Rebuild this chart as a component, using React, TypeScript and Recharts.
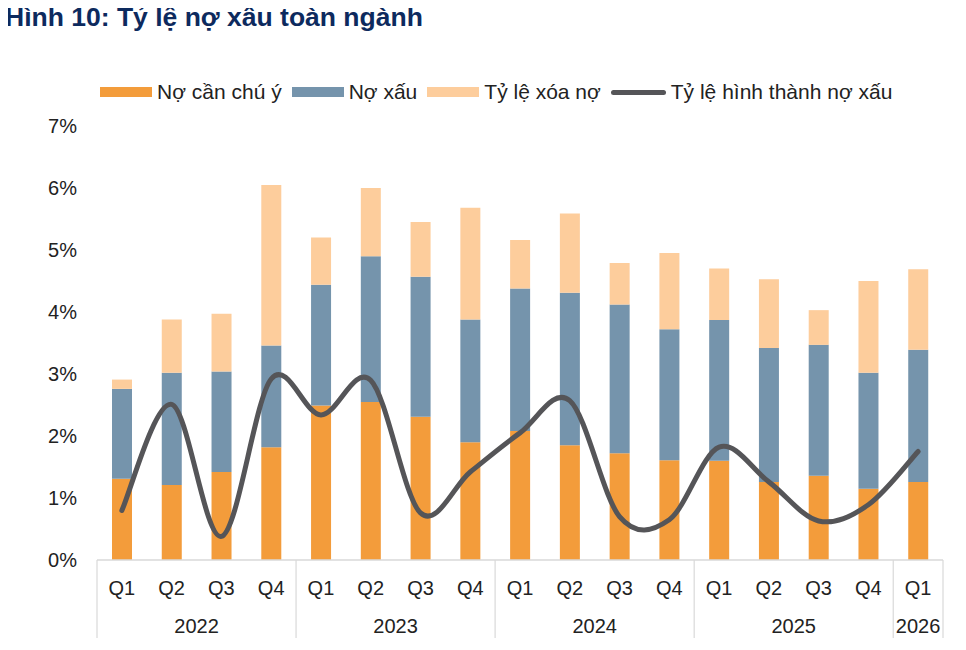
import React from 'react';
import { ComposedChart, Bar, Line, XAxis, YAxis } from 'recharts';

const quarters = ['Q1','Q2','Q3','Q4','Q1','Q2','Q3','Q4','Q1','Q2','Q3','Q4','Q1','Q2','Q3','Q4','Q1'];
const years = ['2022','2022','2022','2022','2023','2023','2023','2023','2024','2024','2024','2024','2025','2025','2025','2025','2026'];
const watchList = [1.31,1.21,1.42,1.82,2.49,2.55,2.31,1.90,2.08,1.85,1.72,1.61,1.60,1.26,1.36,1.15,1.26];
const badDebt = [1.45,1.81,1.62,1.64,1.95,2.35,2.26,1.98,2.30,2.46,2.40,2.11,2.27,2.16,2.11,1.87,2.13];
const writeOff = [0.15,0.86,0.93,2.59,0.76,1.10,0.88,1.80,0.78,1.28,0.67,1.23,0.83,1.11,0.56,1.48,1.30];
const formation = [0.80,2.51,0.38,2.92,2.34,2.90,0.76,1.42,2.05,2.57,0.70,0.65,1.82,1.26,0.63,0.89,1.75];
const yTicks = [0,1,2,3,4,5,6,7];
const seriesNames = ['Nợ cần chú ý','Nợ xấu','Tỷ lệ xóa nợ','Tỷ lệ hình thành nợ xấu'];
const colors = ['#F39C3B','#7594AC','#FDCD9C','#555558'];
const title = 'Hình 10: Tỷ lệ nợ xấu toàn ngành';

const data = quarters.map((q, i) => ({
  key: i,
  q,
  year: years[i],
  watch: watchList[i],
  bad: badDebt[i],
  wo: writeOff[i],
  form: formation[i],
}));

function excelCurve(context: any) {
  let pts: [number, number][] = [];
  return {
    areaStart() {},
    areaEnd() {},
    lineStart() { pts = []; },
    point(x: number, y: number) { pts.push([+x, +y]); },
    lineEnd() {
      const n = pts.length;
      if (!n) return;
      context.moveTo(pts[0][0], pts[0][1]);
      for (let i = 0; i < n - 1; i++) {
        const p0 = pts[i - 1] || pts[i];
        const p1 = pts[i];
        const p2 = pts[i + 1];
        const p3 = pts[i + 2] || p2;
        const c1x = p1[0] + (p2[0] - p0[0]) / 6;
        const c1y = p1[1] + (p2[1] - p0[1]) / 6;
        const c2x = p2[0] - (p3[0] - p1[0]) / 6;
        const c2y = p2[1] - (p3[1] - p1[1]) / 6;
        context.bezierCurveTo(c1x, c1y, c2x, c2y, p2[0], p2[1]);
      }
    },
  };
}

const AXIS_GRAY = '#D9D9D9';
const TEXT = '#222222';

const XTick = (props: any) => {
  const { x, y, payload } = props;
  const idx = payload.index ?? payload.value;
  const half = payload.offset ?? 24.88;
  const d = data[idx];
  if (!d) return null;
  const isFirst = idx === 0 || data[idx - 1].year !== d.year;
  const isLast = idx === data.length - 1;
  const count = data.filter((e) => e.year === d.year).length;
  return (
    <g>
      <text x={x} y={y + 35} textAnchor="middle" fontSize={20} fill={TEXT}>{d.q}</text>
      {isFirst && (
        <>
          <line x1={x - half} x2={x - half} y1={y} y2={y + 78} stroke={AXIS_GRAY} strokeWidth={1.2} />
          <text x={x + (count - 1) * half} y={y + 73} textAnchor="middle" fontSize={20} fill={TEXT}>{d.year}</text>
        </>
      )}
      {isLast && <line x1={x + half} x2={x + half} y1={y} y2={y + 78} stroke={AXIS_GRAY} strokeWidth={1.2} />}
    </g>
  );
};

const YTick = (props: any) => {
  const { x, y, payload } = props;
  return (
    <text x={x} y={y + 7} textAnchor="end" fontSize={20} fill={TEXT}>{`${payload.value}%`}</text>
  );
};

export default function App() {
  return (
    <div style={{ position: 'relative', width: 950, height: 642, fontFamily: '"Liberation Sans", Arial, sans-serif' }}>
      <div style={{ position: 'absolute', left: -3, top: -6, fontSize: 26.5, fontWeight: 700, color: '#0D2A5E', whiteSpace: 'nowrap', lineHeight: 'normal' }}>
        {title}
      </div>
      <div style={{ position: 'absolute', left: 92, top: 72, display: 'flex', alignItems: 'center', fontSize: 21, color: TEXT, whiteSpace: 'nowrap', height: 24 }}>
        {seriesNames.map((name, i) => (
          <div key={name} style={{ display: 'flex', alignItems: 'center', marginRight: 10 }}>
            {i < 3 ? (
              <div style={{ width: 52, height: 10, background: colors[i], marginRight: 5 }} />
            ) : (
              <div style={{ width: 55, height: 5, borderRadius: 3, background: colors[i], marginRight: 5 }} />
            )}
            <span>{name}</span>
          </div>
        ))}
      </div>
      <div style={{ position: 'absolute', left: 0, top: 0 }}>
        <ComposedChart width={950} height={642} data={data} margin={{ top: 118, right: 15, bottom: 10, left: 29 }} barSize={20}>
          <XAxis
            dataKey="key"
            type="category"
            height={80}
            tickLine={false}
            tickSize={0}
            tickMargin={0}
            axisLine={{ stroke: AXIS_GRAY, strokeWidth: 1.5 }}
            tick={<XTick />}
            interval={0}
          />
          <YAxis
            width={60}
            domain={[0, 7]}
            ticks={yTicks}
            axisLine={false}
            tickLine={false}
            tickSize={0}
            tickMargin={20}
            tick={<YTick />}
            interval={0}
          />
          <Bar dataKey="watch" stackId="a" fill={colors[0]} name={seriesNames[0]} isAnimationActive={false} />
          <Bar dataKey="bad" stackId="a" fill={colors[1]} name={seriesNames[1]} isAnimationActive={false} />
          <Bar dataKey="wo" stackId="a" fill={colors[2]} name={seriesNames[2]} isAnimationActive={false} />
          <Line
            dataKey="form"
            type={excelCurve as any}
            stroke={colors[3]}
            strokeWidth={5}
            strokeLinecap="round"
            dot={false}
            activeDot={false}
            name={seriesNames[3]}
            isAnimationActive={false}
          />
        </ComposedChart>
      </div>
    </div>
  );
}
